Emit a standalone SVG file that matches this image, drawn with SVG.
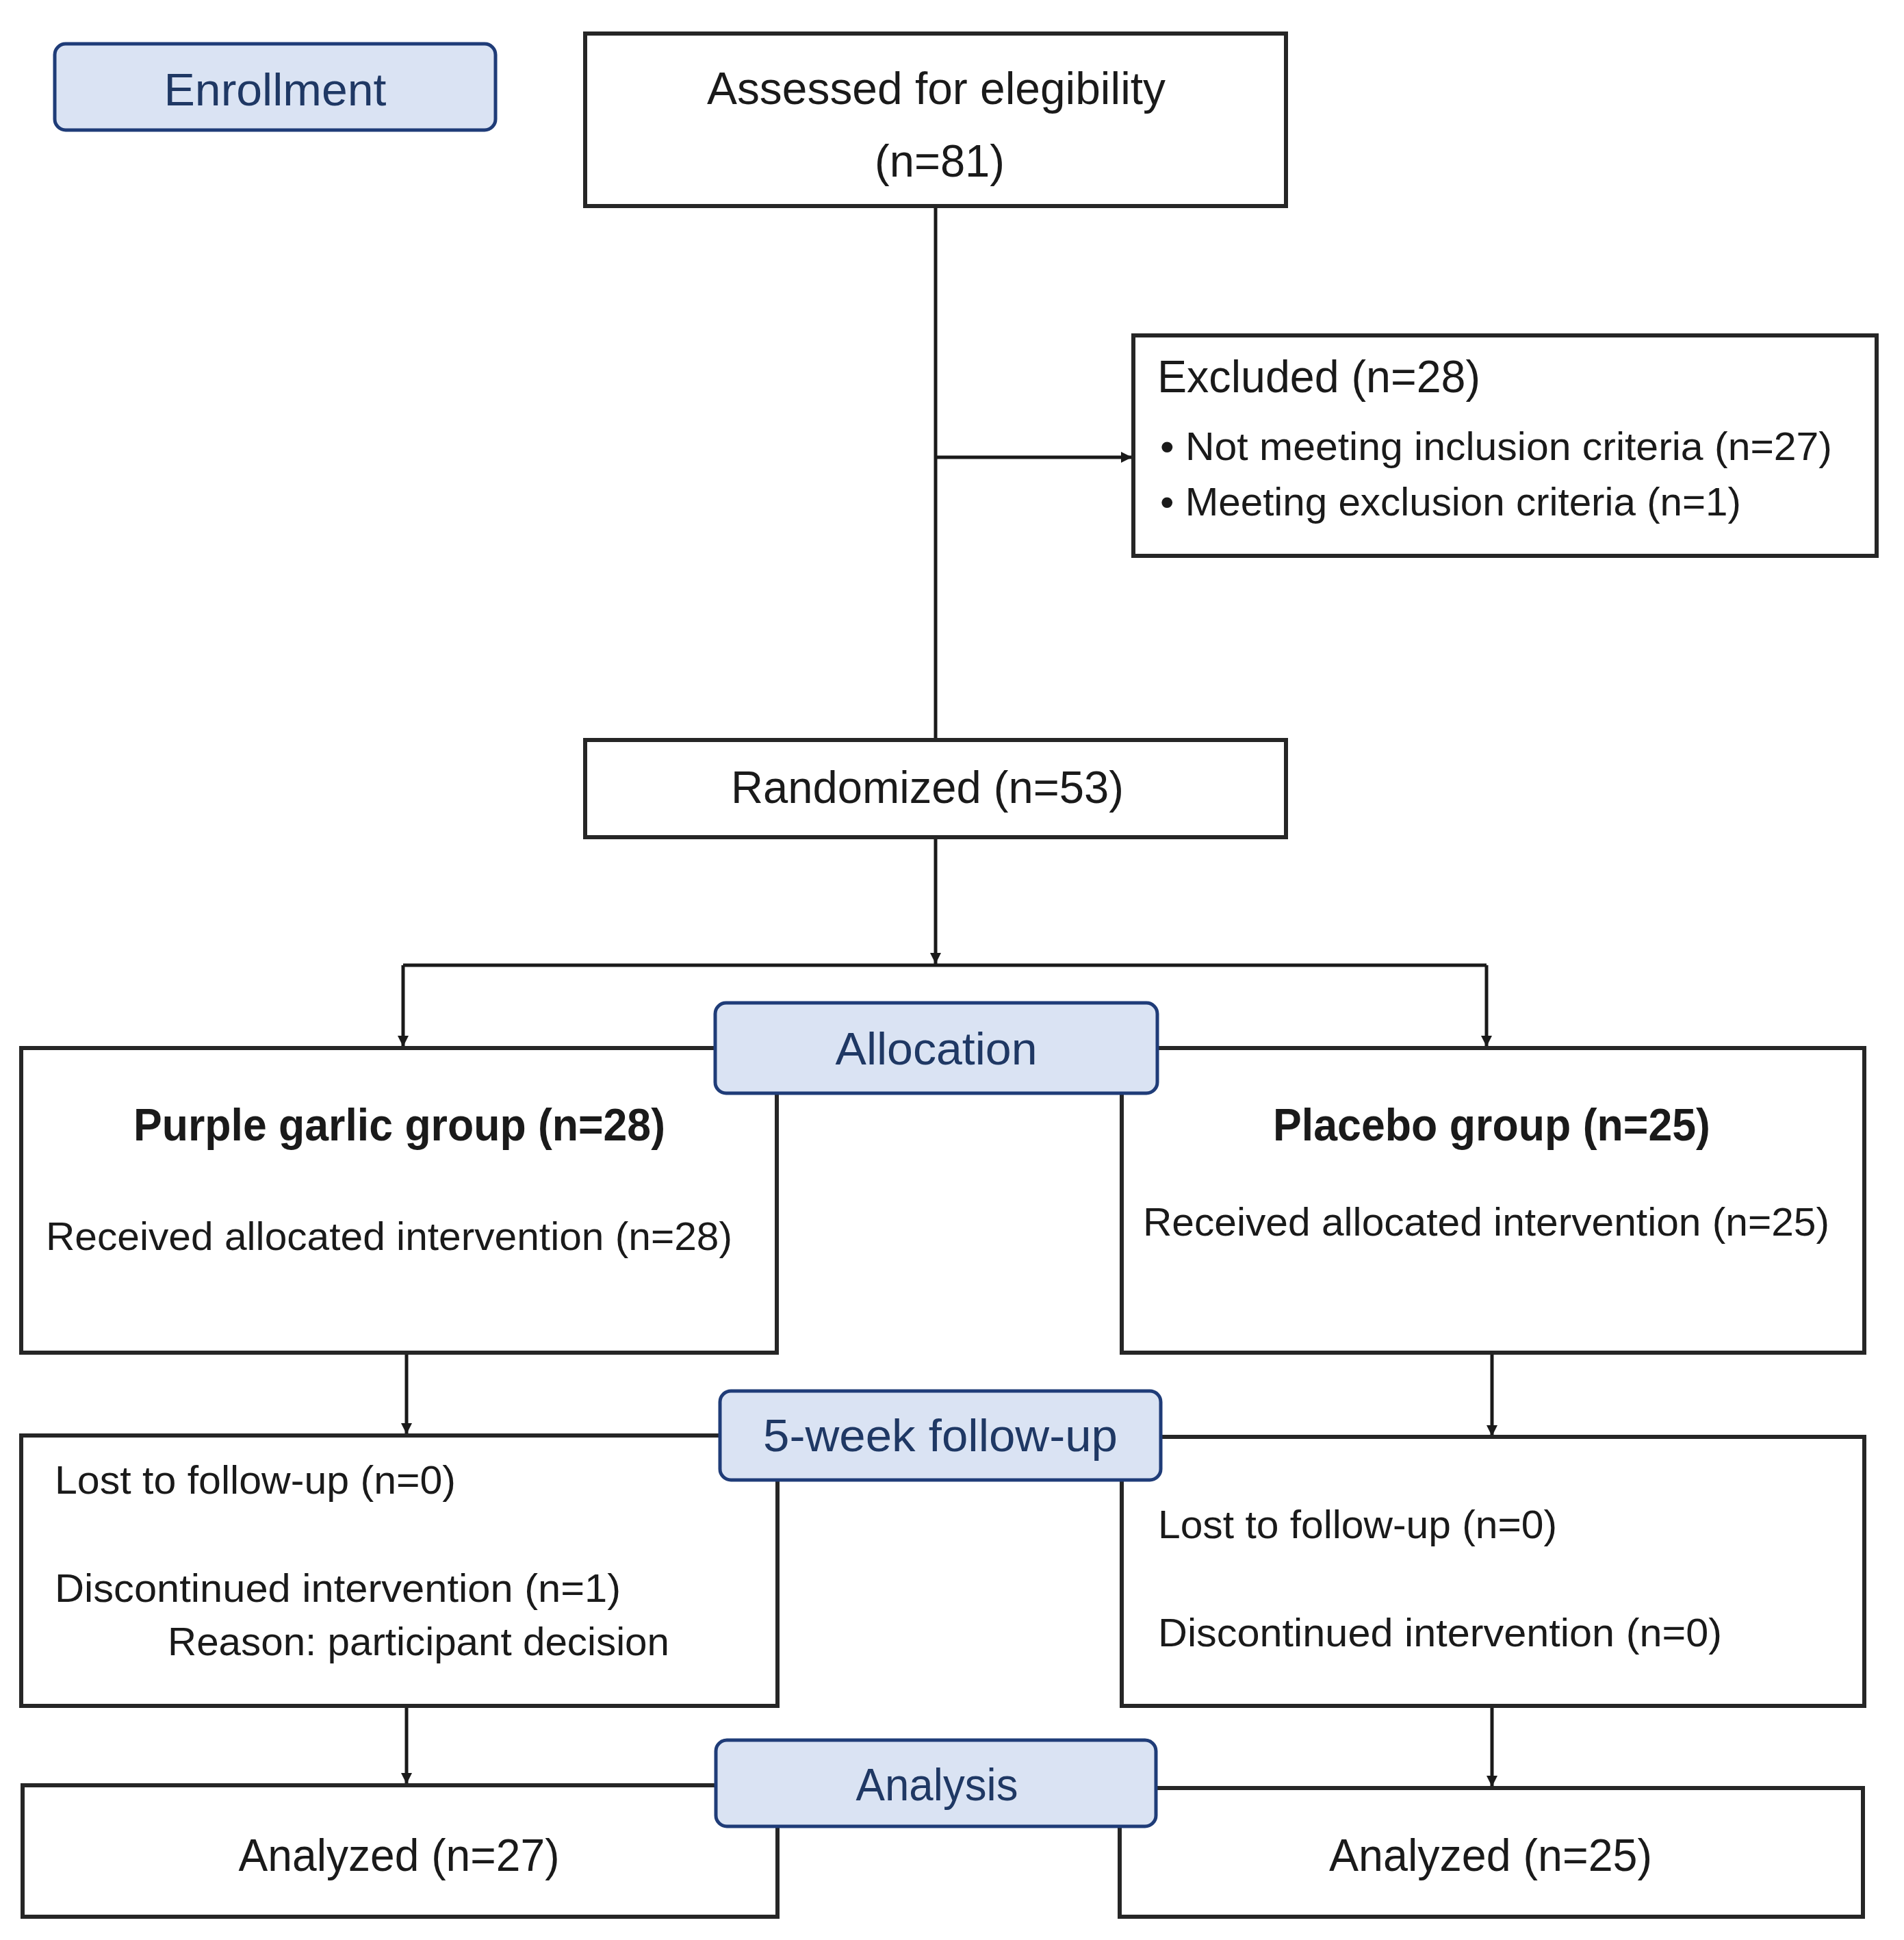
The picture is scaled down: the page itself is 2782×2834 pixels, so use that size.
<svg xmlns="http://www.w3.org/2000/svg" width="2782" height="2834" viewBox="0 0 2782 2834">
<style>
.box{fill:#ffffff;stroke:#262626;stroke-width:6}
.lbl{fill:#dae3f3;stroke:#1f3c78;stroke-width:5}
.t{font-family:"Liberation Sans","DejaVu Sans",sans-serif;fill:#1a1a1a}
.big{font-size:66px}
.sm{font-size:57px}
.bold{font-weight:bold}
.lt{font-family:"Liberation Sans","DejaVu Sans",sans-serif;font-size:66px;fill:#1f3864}
.ln{fill:none;stroke:#1a1a1a;stroke-width:5}
</style>
<defs>
<marker id="arr" viewBox="0 0 10 10" refX="10" refY="5" markerWidth="18" markerHeight="16" orient="auto" markerUnits="userSpaceOnUse">
<path d="M0,0 L10,5 L0,10 z" fill="#1a1a1a"/>
</marker>
</defs>
<rect width="2782" height="2834" fill="#ffffff"/>

<g id="connectors">
<path class="ln" d="M1367,302 V1081"/>
<path class="ln" d="M1367,668 H1654" marker-end="url(#arr)"/>
<path class="ln" d="M1367,1223 V1408" marker-end="url(#arr)"/>
<path class="ln" d="M589,1410 H2172"/>
<path class="ln" d="M2172,1410 V1529" marker-end="url(#arr)"/>
<path class="ln" d="M589,1410 V1529" marker-end="url(#arr)"/>
<path class="ln" d="M594,1976 V2095" marker-end="url(#arr)"/>
<path class="ln" d="M2180,1976 V2098" marker-end="url(#arr)"/>
<path class="ln" d="M594,2492 V2606" marker-end="url(#arr)"/>
<path class="ln" d="M2180,2492 V2610" marker-end="url(#arr)"/>
</g>

<g id="enrollment">
<rect class="lbl" x="80" y="64" width="644" height="126" rx="16"/>
<text class="lt" x="402" y="154" text-anchor="middle" textLength="325" lengthAdjust="spacingAndGlyphs">Enrollment</text>
</g>

<g id="assessed">
<rect class="box" x="855" y="49" width="1024" height="252"/>
<text class="t big" x="1368" y="152" text-anchor="middle" textLength="670" lengthAdjust="spacingAndGlyphs">Assessed for elegibility</text>
<text class="t big" x="1373" y="258" text-anchor="middle" textLength="190" lengthAdjust="spacingAndGlyphs">(n=81)</text>
</g>

<g id="excluded">
<rect class="box" x="1656" y="490" width="1086" height="322"/>
<text class="t big" x="1691" y="573" textLength="472" lengthAdjust="spacingAndGlyphs">Excluded (n=28)</text>
<text class="t sm" x="1695" y="672" textLength="982" lengthAdjust="spacingAndGlyphs">• Not meeting inclusion criteria (n=27)</text>
<text class="t sm" x="1695" y="753" textLength="849" lengthAdjust="spacingAndGlyphs">• Meeting exclusion criteria (n=1)</text>
</g>

<g id="randomized">
<rect class="box" x="855" y="1081" width="1024" height="142"/>
<text class="t big" x="1068" y="1173" textLength="574" lengthAdjust="spacingAndGlyphs">Randomized (n=53)</text>
</g>

<g id="garlic">
<rect class="box" x="31" y="1531" width="1104" height="445"/>
<text class="t big bold" x="195" y="1666" textLength="777" lengthAdjust="spacingAndGlyphs">Purple garlic group (n=28)</text>
<text class="t sm" x="67" y="1826" textLength="1003" lengthAdjust="spacingAndGlyphs">Received allocated intervention (n=28)</text>
</g>

<g id="placebo">
<rect class="box" x="1639" y="1531" width="1085" height="445"/>
<text class="t big bold" x="1860" y="1666" textLength="639" lengthAdjust="spacingAndGlyphs">Placebo group (n=25)</text>
<text class="t sm" x="1670" y="1805" textLength="1003" lengthAdjust="spacingAndGlyphs">Received allocated intervention (n=25)</text>
</g>

<g id="allocation">
<rect class="lbl" x="1045" y="1465" width="646" height="132" rx="16"/>
<text class="lt" x="1368" y="1555" text-anchor="middle" textLength="295" lengthAdjust="spacingAndGlyphs">Allocation</text>
</g>

<g id="followup-left">
<rect class="box" x="31" y="2097" width="1105" height="395"/>
<text class="t sm" x="80" y="2182" textLength="586" lengthAdjust="spacingAndGlyphs">Lost to follow-up (n=0)</text>
<text class="t sm" x="80" y="2340" textLength="827" lengthAdjust="spacingAndGlyphs">Discontinued intervention (n=1)</text>
<text class="t sm" x="245" y="2418" textLength="733" lengthAdjust="spacingAndGlyphs">Reason: participant decision</text>
</g>

<g id="followup-right">
<rect class="box" x="1639" y="2099" width="1085" height="393"/>
<text class="t sm" x="1692" y="2247" textLength="583" lengthAdjust="spacingAndGlyphs">Lost to follow-up (n=0)</text>
<text class="t sm" x="1692" y="2405" textLength="824" lengthAdjust="spacingAndGlyphs">Discontinued intervention (n=0)</text>
</g>

<g id="followup-label">
<rect class="lbl" x="1052" y="2032" width="644" height="130" rx="16"/>
<text class="lt" x="1374" y="2120" text-anchor="middle" textLength="518" lengthAdjust="spacingAndGlyphs">5-week follow-up</text>
</g>

<g id="analyzed-left">
<rect class="box" x="33" y="2608" width="1103" height="192"/>
<text class="t big" x="583" y="2733" text-anchor="middle" textLength="469" lengthAdjust="spacingAndGlyphs">Analyzed (n=27)</text>
</g>

<g id="analyzed-right">
<rect class="box" x="1636" y="2612" width="1086" height="188"/>
<text class="t big" x="2178" y="2733" text-anchor="middle" textLength="472" lengthAdjust="spacingAndGlyphs">Analyzed (n=25)</text>
</g>

<g id="analysis">
<rect class="lbl" x="1046" y="2542" width="643" height="126" rx="16"/>
<text class="lt" x="1369" y="2630" text-anchor="middle" textLength="237" lengthAdjust="spacingAndGlyphs">Analysis</text>
</g>
</svg>
